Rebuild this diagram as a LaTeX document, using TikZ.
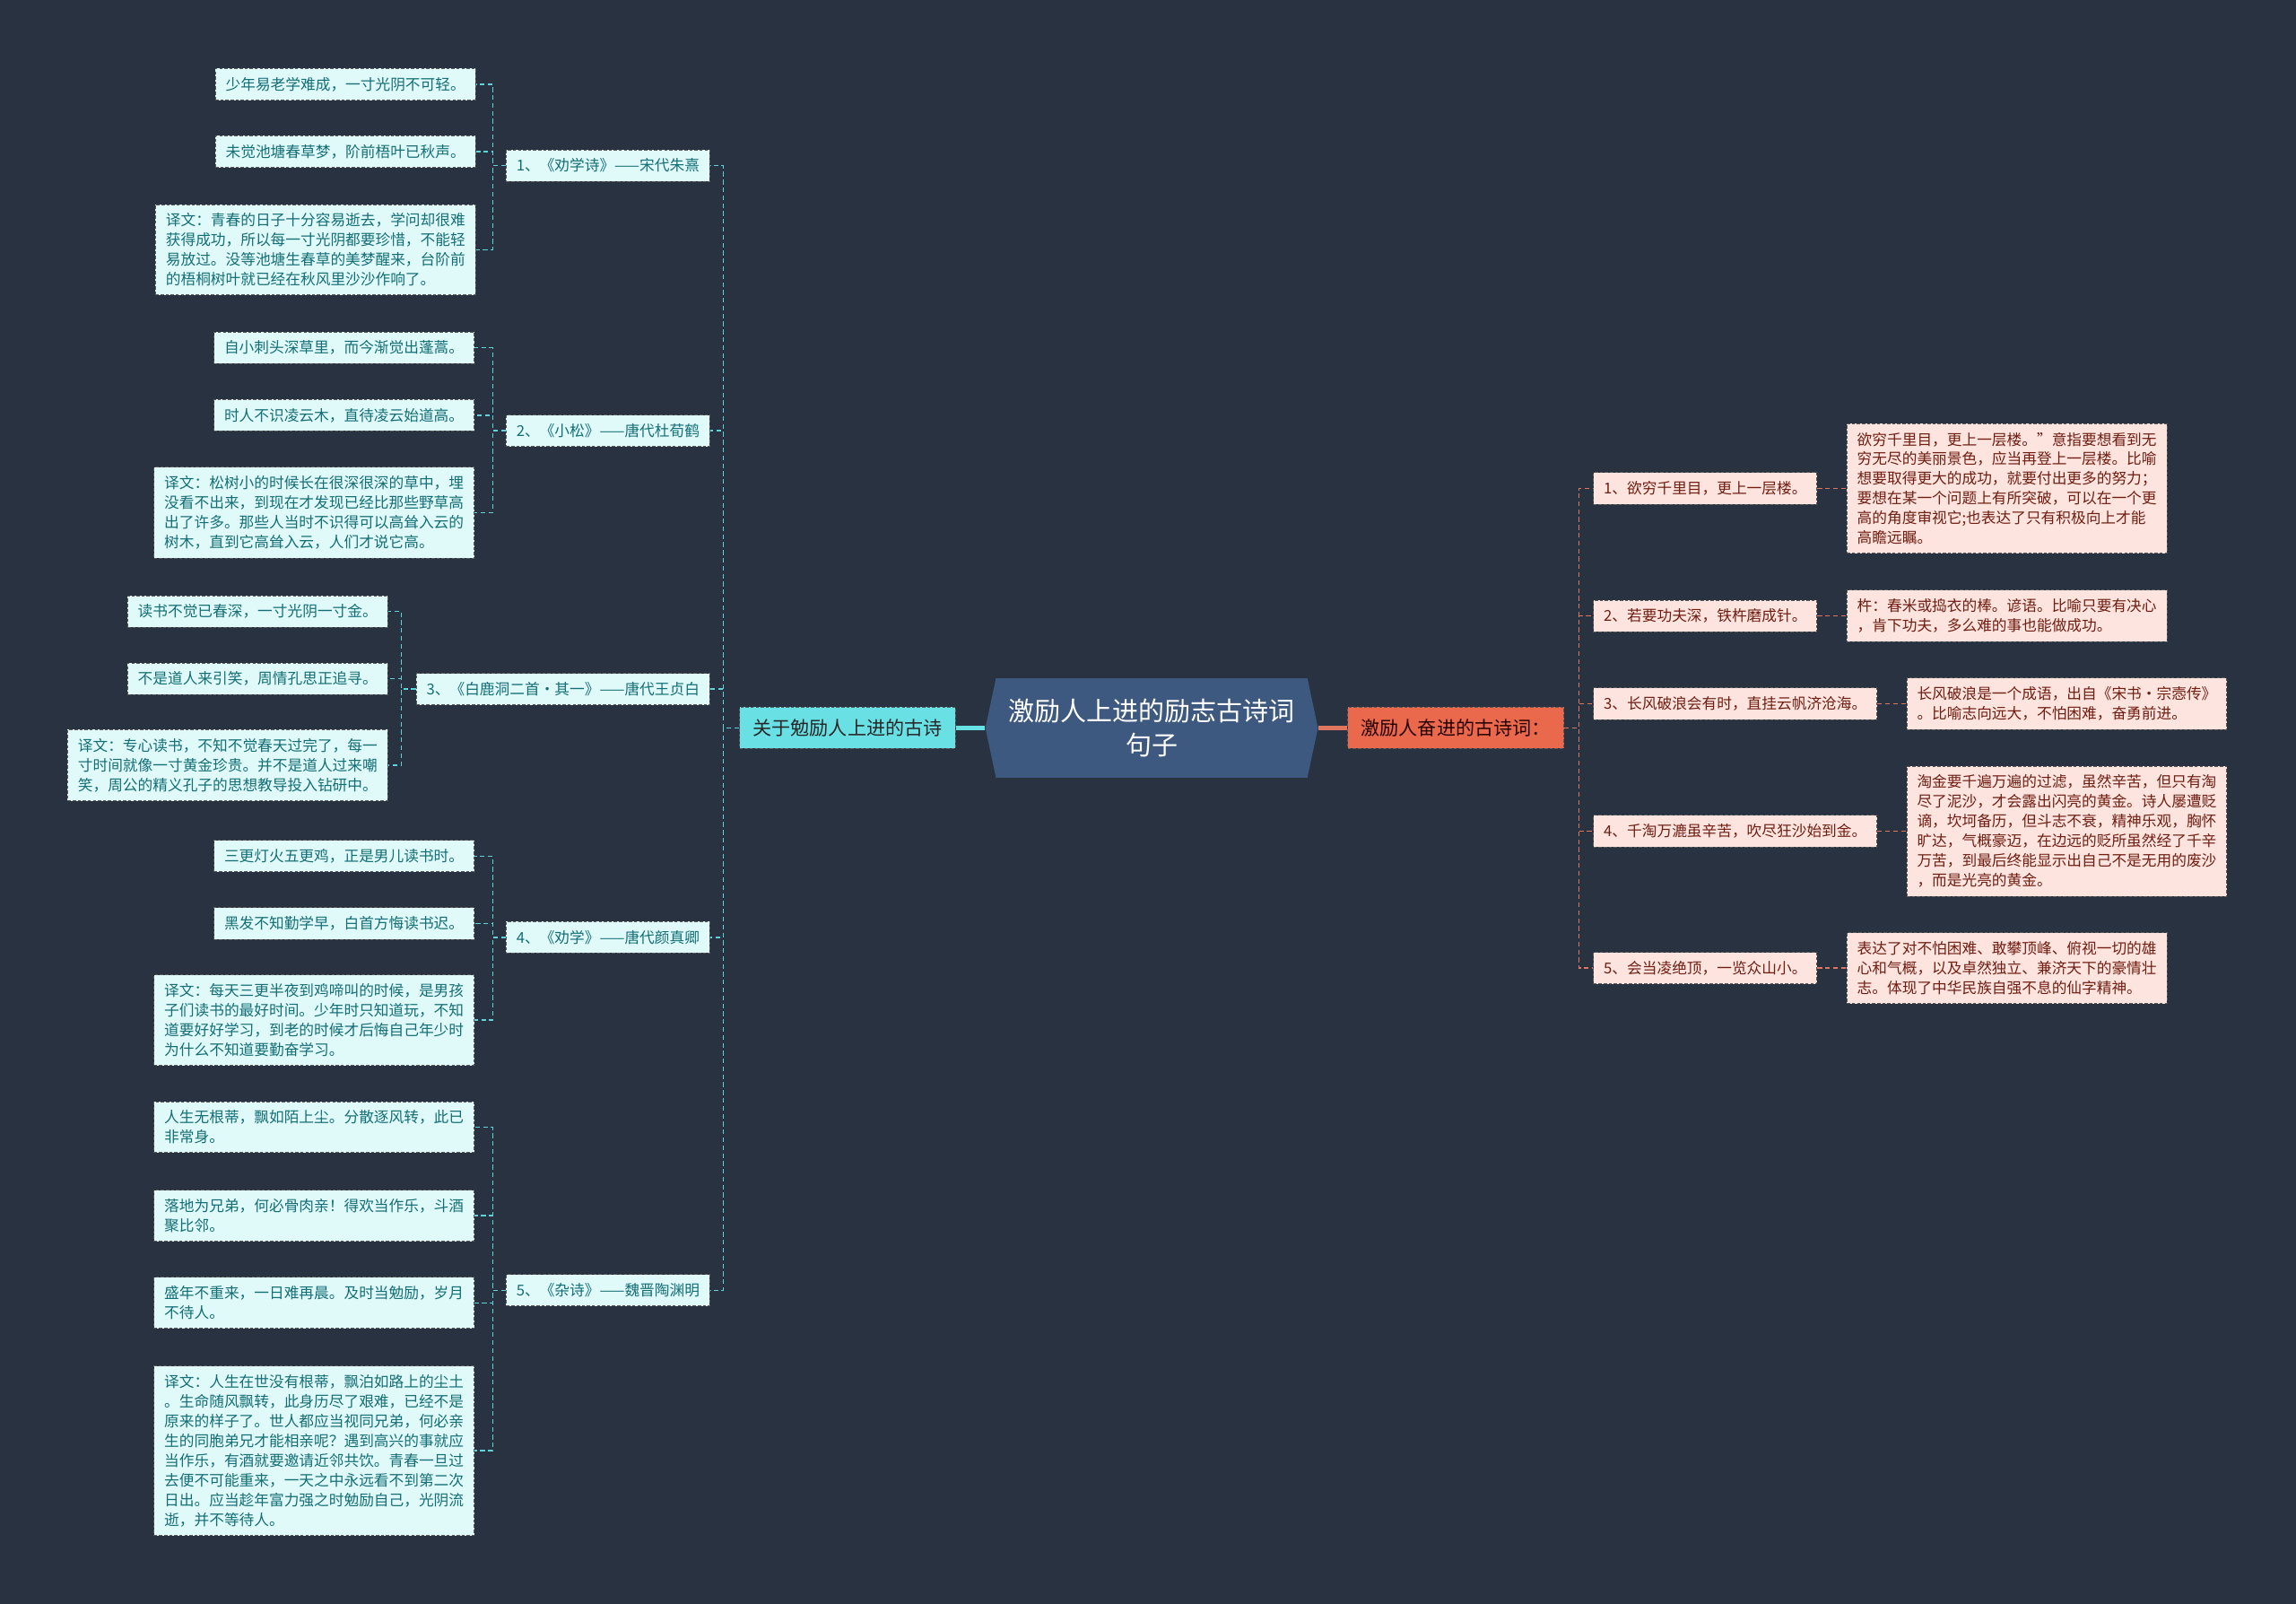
\documentclass[tikz,border=0pt]{standalone}
\usepackage{fontspec}
\setmainfont{Noto Sans CJK SC}
\usepackage{xcolor}
\usepackage{tikz}
\usetikzlibrary{shapes.symbols, positioning}
\definecolor{navybg}{RGB}{41, 50, 65}
\definecolor{hubblue}{RGB}{62, 89, 128}
\definecolor{poemcyan}{RGB}{104, 224, 228}
\definecolor{leafcyan}{RGB}{224, 250, 250}
\definecolor{leafteal}{RGB}{20, 110, 118}
\definecolor{goalred}{RGB}{234, 104, 76}
\definecolor{leafpink}{RGB}{253, 228, 222}
\definecolor{leafbrown}{RGB}{112, 30, 18}
\definecolor{linecyan}{RGB}{96, 210, 218}
\definecolor{linered}{RGB}{222, 118, 96}

\begin{document}
\begin{tikzpicture}[x=0.03265cm, y=-0.03265cm,
    box/.style={draw=black!65, dash pattern=on 2pt off 1.2pt, line width=0.5pt,
                inner xsep=6.5pt, inner ysep=5.5pt, align=left,
                font=\fontsize{9.5}{12.5}\selectfont},
    lleaf/.style={box, fill=leafcyan, text=leafteal},
    rleaf/.style={box, fill=leafpink, text=leafbrown},
    lwire/.style={linecyan, dash pattern=on 3pt off 2pt, line width=0.8pt},
    rwire/.style={linered, dash pattern=on 3pt off 2pt, line width=0.8pt}]
    % Background
    \fill[navybg] (0,0) rectangle (1568,1095);

    % Hub and the two branches
    \node[signal, signal to=east and west, signal pointer angle=156,
          fill=hubblue, text=white, align=center,
          font=\fontsize{16.5}{22}\selectfont,
          minimum width=211pt, minimum height=63pt] (hub) at (786.5,497)
        {激励人上进的励志古诗词\\句子};
    \node[box, fill=poemcyan, text=black!85, font=\fontsize{12}{14}\selectfont,
          inner xsep=8.5pt, inner ysep=7.5pt, left=0.65cm of hub] (lmain) {关于勉励人上进的古诗};
    \node[box, fill=goalred, text=black!85!red, font=\fontsize{12}{14}\selectfont,
          inner xsep=8.5pt, inner ysep=7.5pt, right=0.65cm of hub] (rmain) {激励人奋进的古诗词：};
    \draw[poemcyan, line width=2.5pt] (hub.west) -- (lmain.east);
    \draw[linered, line width=2.5pt] (hub.east) -- (rmain.west);

    % Left: poems
    \node[lleaf, anchor=east] (p1) at (485,113) {1、《劝学诗》——宋代朱熹};
    \node[lleaf, anchor=east] (p2) at (485,294) {2、《小松》——唐代杜荀鹤};
    \node[lleaf, anchor=east] (p3) at (485,470.5) {3、《白鹿洞二首·其一》——唐代王贞白};
    \node[lleaf, anchor=east] (p4) at (485,640) {4、《劝学》——唐代颜真卿};
    \node[lleaf, anchor=east] (p5) at (485,881) {5、《杂诗》——魏晋陶渊明};
    \foreach \p in {p1,p2,p3,p4,p5}
        \draw[lwire] (lmain.west) -- ++(-11,0) |- (\p.east);

    % Left: lines and translations
    \node[lleaf, anchor=east] (l1a) at (325,57.5) {少年易老学难成，一寸光阴不可轻。};
    \node[lleaf, anchor=east] (l1b) at (325,103.5) {未觉池塘春草梦，阶前梧叶已秋声。};
    \node[lleaf, anchor=east] (l1c) at (325,170.5)
        {译文：青春的日子十分容易逝去，学问却很难\\获得成功，所以每一寸光阴都要珍惜，不能轻\\易放过。没等池塘生春草的美梦醒来，台阶前\\的梧桐树叶就已经在秋风里沙沙作响了。};

    \node[lleaf, anchor=east] (l2a) at (324,237.5) {自小刺头深草里，而今渐觉出蓬蒿。};
    \node[lleaf, anchor=east] (l2b) at (324,283.5) {时人不识凌云木，直待凌云始道高。};
    \node[lleaf, anchor=east] (l2c) at (324,350)
        {译文：松树小的时候长在很深很深的草中，埋\\没看不出来，到现在才发现已经比那些野草高\\出了许多。那些人当时不识得可以高耸入云的\\树木，直到它高耸入云，人们才说它高。};

    \node[lleaf, anchor=east] (l3a) at (265,417.5) {读书不觉已春深，一寸光阴一寸金。};
    \node[lleaf, anchor=east] (l3b) at (265,463.5) {不是道人来引笑，周情孔思正追寻。};
    \node[lleaf, anchor=east] (l3c) at (265,522.5)
        {译文：专心读书，不知不觉春天过完了，每一\\寸时间就像一寸黄金珍贵。并不是道人过来嘲\\笑，周公的精义孔子的思想教导投入钻研中。};

    \node[lleaf, anchor=east] (l4a) at (324,584.5) {三更灯火五更鸡，正是男儿读书时。};
    \node[lleaf, anchor=east] (l4b) at (324,630.5) {黑发不知勤学早，白首方悔读书迟。};
    \node[lleaf, anchor=east] (l4c) at (324,696.5)
        {译文：每天三更半夜到鸡啼叫的时候，是男孩\\子们读书的最好时间。少年时只知道玩，不知\\道要好好学习，到老的时候才后悔自己年少时\\为什么不知道要勤奋学习。};

    \node[lleaf, anchor=east] (l5a) at (324,769.5) {人生无根蒂，飘如陌上尘。分散逐风转，此已\\非常身。};
    \node[lleaf, anchor=east] (l5b) at (324,830) {落地为兄弟，何必骨肉亲！得欢当作乐，斗酒\\聚比邻。};
    \node[lleaf, anchor=east] (l5c) at (324,889.5) {盛年不重来，一日难再晨。及时当勉励，岁月\\不待人。};
    \node[lleaf, anchor=east] (l5d) at (324,990.5)
        {译文：人生在世没有根蒂，飘泊如路上的尘土\\。生命随风飘转，此身历尽了艰难，已经不是\\原来的样子了。世人都应当视同兄弟，何必亲\\生的同胞弟兄才能相亲呢？遇到高兴的事就应\\当作乐，有酒就要邀请近邻共饮。青春一旦过\\去便不可能重来，一天之中永远看不到第二次\\日出。应当趁年富力强之时勉励自己，光阴流\\逝，并不等待人。};

    \foreach \l in {l1a,l1b,l1c}
        \draw[lwire] (p1.west) -- ++(-9,0) |- (\l.east);
    \foreach \l in {l2a,l2b,l2c}
        \draw[lwire] (p2.west) -- ++(-9,0) |- (\l.east);
    \foreach \l in {l3a,l3b,l3c}
        \draw[lwire] (p3.west) -- ++(-10,0) |- (\l.east);
    \foreach \l in {l4a,l4b,l4c}
        \draw[lwire] (p4.west) -- ++(-9,0) |- (\l.east);
    \foreach \l in {l5a,l5b,l5c,l5d}
        \draw[lwire] (p5.west) -- ++(-9,0) |- (\l.east);

    % Right: sayings
    \node[rleaf, anchor=west] (r1) at (1088,333.5) {1、欲穷千里目，更上一层楼。};
    \node[rleaf, anchor=west] (r2) at (1088,420.5) {2、若要功夫深，铁杵磨成针。};
    \node[rleaf, anchor=west] (r3) at (1088,480.5) {3、长风破浪会有时，直挂云帆济沧海。};
    \node[rleaf, anchor=west] (r4) at (1088,567.5) {4、千淘万漉虽辛苦，吹尽狂沙始到金。};
    \node[rleaf, anchor=west] (r5) at (1088,661) {5、会当凌绝顶，一览众山小。};
    \foreach \r in {r1,r2,r3,r4,r5}
        \draw[rwire] (rmain.east) -- ++(10,0) |- (\r.west);

    % Right: explanations
    \node[rleaf, right=0.65cm of r1] (e1)
        {欲穷千里目，更上一层楼。”意指要想看到无\\穷无尽的美丽景色，应当再登上一层楼。比喻\\想要取得更大的成功，就要付出更多的努力；\\要想在某一个问题上有所突破，可以在一个更\\高的角度审视它;也表达了只有积极向上才能\\高瞻远瞩。};
    \node[rleaf, right=0.65cm of r2] (e2)
        {杵：春米或捣衣的棒。谚语。比喻只要有决心\\，肯下功夫，多么难的事也能做成功。};
    \node[rleaf, right=0.65cm of r3] (e3)
        {长风破浪是一个成语，出自《宋书·宗悫传》\\。比喻志向远大，不怕困难，奋勇前进。};
    \node[rleaf, right=0.65cm of r4] (e4)
        {淘金要千遍万遍的过滤，虽然辛苦，但只有淘\\尽了泥沙，才会露出闪亮的黄金。诗人屡遭贬\\谪，坎坷备历，但斗志不衰，精神乐观，胸怀\\旷达，气概豪迈，在边远的贬所虽然经了千辛\\万苦，到最后终能显示出自己不是无用的废沙\\，而是光亮的黄金。};
    \node[rleaf, right=0.65cm of r5] (e5)
        {表达了对不怕困难、敢攀顶峰、俯视一切的雄\\心和气概，以及卓然独立、兼济天下的豪情壮\\志。体现了中华民族自强不息的仙字精神。};
    \foreach \r/\e in {r1/e1,r2/e2,r3/e3,r4/e4,r5/e5}
        \draw[rwire] (\r.east) -- (\e.west);
\end{tikzpicture}
\end{document}
